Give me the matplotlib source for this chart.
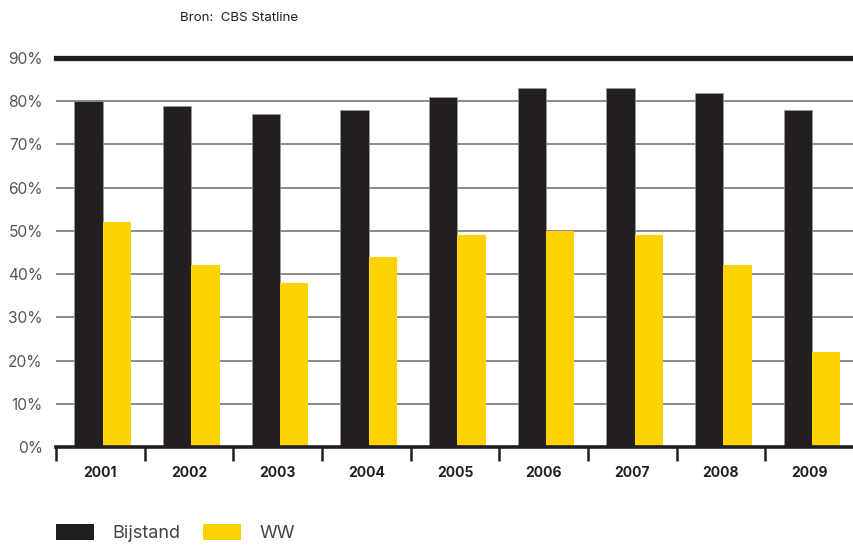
import numpy as np
import matplotlib
matplotlib.use("Agg")
import matplotlib.pyplot as plt
from matplotlib.patches import Patch

plt.rcParams['font.family'] = ['Inter', 'DejaVu Sans']

years = ["2001", "2002", "2003", "2004", "2005", "2006", "2007", "2008", "2009"]
bijstand = [80, 79, 77, 78, 81, 83, 83, 82, 78]
ww = [52, 42, 38, 44, 49, 50, 49, 42, 22]

black = "#231f20"
yellow = "#fcd200"
grey = "#8a8a8a"

fig = plt.figure(figsize=(8.54, 5.45), dpi=100)
ax = fig.add_axes([56 / 854, 1 - 447 / 545, 1 - 56 / 854, (447 - 58) / 545])

x = np.arange(len(years))
w = 0.32
ax.bar(x - 0.135, bijstand, w, color=black, edgecolor="#9a9a9a", linewidth=0.5, zorder=3)
ax.bar(x + 0.185, ww, w, color=yellow, zorder=3)

# gridlines
for v in range(10, 90, 10):
    ax.axhline(v, color=grey, lw=1.4, zorder=1)
ax.axhline(90, color=black, lw=3.8, zorder=4, clip_on=False)

ax.set_xlim(-0.5, 8.5)
ax.set_ylim(0, 90)

ax.set_yticks(range(0, 100, 10))
ax.set_yticklabels([f"{v}%" for v in range(0, 100, 10)])
ax.tick_params(axis="y", length=0, pad=9.5, labelsize=11.2, labelcolor="#555555")

ax.set_xticks(x)
ax.set_xticklabels(years, fontweight="bold")
ax.tick_params(axis="x", which="major", length=0, pad=14, labelsize=10, labelcolor=black)
ax.set_xticks(np.arange(-0.5, 9, 1), minor=True)
ax.tick_params(axis="x", which="minor", length=10, width=1.8, color=black)

for s in ["top", "right", "left"]:
    ax.spines[s].set_visible(False)
ax.spines["bottom"].set_linewidth(2.6)
ax.spines["bottom"].set_color(black)
ax.spines["bottom"].set_zorder(5)

fig.text(180 / 854, 1 - 18 / 545, "Bron:  CBS Statline", fontsize=9.6, color=black, va="center")

handles = [Patch(facecolor=black, label="Bijstand"), Patch(facecolor=yellow, label="WW")]
fig.legend(handles=handles, loc="center left", bbox_to_anchor=(56 / 854, 1 - 533 / 545),
           ncol=2, frameon=False, fontsize=13, handlelength=2.1, handleheight=1.0,
           handletextpad=1.0, columnspacing=1.3, borderpad=0, borderaxespad=0,
           labelcolor="#444444")

fig.savefig("out.png", dpi=100)
